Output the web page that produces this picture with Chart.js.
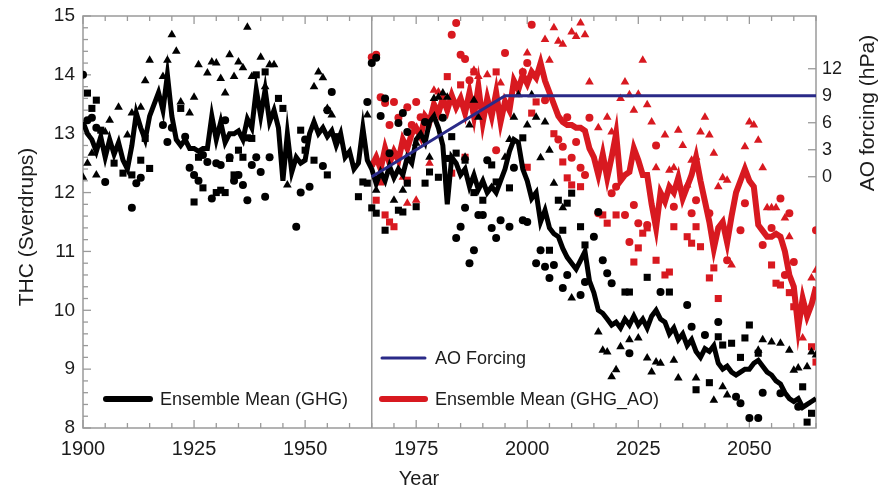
<!DOCTYPE html>
<html><head><meta charset="utf-8">
<script src="https://cdn.jsdelivr.net/npm/chart.js@4/dist/chart.umd.min.js"></script>
<style>html,body{margin:0;padding:0;background:#fff}#wrap{width:881px;height:491px}</style>
</head><body><div id="wrap"><canvas id="c" width="881" height="491"></canvas></div>
<script>
// ---------- DATA ----------
const ghgStartYear = 1900;
const ghgMean = [
 13.2,13.0,12.9,12.7,12.95,12.6,12.9,12.65,12.85,12.55,
 12.4,12.8,13.35,13.1,12.9,13.3,13.5,13.7,13.4,14.0,
 13.3,12.9,12.8,12.9,12.75,12.75,12.7,12.75,12.75,13.3,
 12.9,13.2,12.85,13.0,13.0,13.05,12.9,13.25,13.1,13.75,
 13.3,13.75,13.2,13.4,13.1,12.2,13.0,12.35,12.6,12.5,
 12.55,13.0,13.2,13.0,13.1,12.95,13.05,12.8,13.0,12.6,
 12.7,12.4,12.5,13.1,12.55,12.4,12.15,12.35,12.2,12.45,
 12.25,12.4,12.3,12.6,12.5,12.9,13.0,12.85,13.2,13.3,
 13.1,12.8,11.8,12.6,12.5,12.3,12.4,12.1,12.3,12.05,
 12.2,12.0,12.1,12.0,12.2,12.4,12.7,12.9,12.85,12.4,
 12.2,11.9,12.0,11.5,11.7,11.4,11.3,11.25,11.05,10.9,
 10.8,10.7,10.85,11.0,10.5,10.3,10.0,9.95,9.85,9.75,
 9.8,9.7,9.85,9.75,9.9,9.75,9.85,9.7,9.9,10.0,
 9.85,9.8,9.6,9.7,9.5,9.6,9.4,9.5,9.3,9.2,
 9.35,9.3,9.4,9.1,9.0,9.05,8.95,8.9,8.95,9.0,
 9.0,9.1,9.15,9.05,8.95,8.9,8.8,8.75,8.6,8.5,
 8.45,8.5,8.35,8.4,8.45,8.5
];
const aoStartYear = 1965;
const ghgAoMean = [
 12.45,12.6,12.4,12.75,12.5,12.7,12.55,12.9,12.75,13.0,
 13.1,12.95,13.3,13.2,13.5,13.35,13.6,13.4,13.65,13.45,
 13.6,13.35,13.7,13.3,13.8,13.2,13.6,13.3,13.7,13.2,
 13.55,13.4,13.9,13.75,14.0,13.85,14.05,13.95,14.2,13.9,
 13.7,13.5,13.3,13.2,13.15,13.15,13.1,13.1,13.05,12.75,
 12.6,12.3,12.65,12.25,12.6,13.0,12.2,12.3,12.35,12.75,
 12.55,12.3,12.3,11.8,11.4,12.0,11.85,12.1,12.0,12.25,
 11.9,12.1,12.3,12.6,12.2,11.85,11.5,11.05,11.4,11.5,
 11.15,11.6,12.0,12.2,12.4,12.2,12.1,11.45,11.35,11.25,
 11.25,11.3,11.25,11.0,10.6,10.4,9.7,10.2,9.9,10.1,
 10.4
];
const aoForcingYears = [1965, 1995, 2065];
const aoForcingValues = [0, 9, 9];

// ensemble members [year, THC]
const ghgCircles = [[1900,14.0],[1901,13.23],[1902,13.27],[1903,13.1],[1905,12.18],[1911,11.74],[1912,12.16],[1913,12.25],[1918,13.15],[1919,12.86],[1920,13.1],[1923,12.95],[1924,12.42],[1925,12.3],[1926,12.2],[1927,12.64],[1928,12.52],[1929,11.9],[1930,12.5],[1931,12.47],[1932,13.23],[1933,12.6],[1934,12.2],[1935,12.3],[1936,12.13],[1937,11.87],[1938,12.47],[1939,12.6],[1940,12.35],[1941,11.93],[1942,12.6],[1948,11.42],[1949,12.0],[1950,12.9],[1951,12.1],[1954,12.45],[1955,13.4],[1956,13.71],[1964,13.54],[1965,14.2],[1966,14.29],[1967,13.3],[1968,13.6],[1969,12.67],[1971,13.18],[1972,13.35],[1973,13.03],[1977,13.2],[1981,13.27],[1984,11.23],[1985,11.42],[1986,11.74],[1987,10.8],[1988,11.02],[1989,11.62],[1990,11.62],[1991,12.55],[1992,11.4],[1993,11.23],[1994,11.53],[1996,11.42],[1997,12.42],[1999,11.53],[2000,11.5],[2002,10.8],[2003,11.02],[2004,10.74],[2005,10.55],[2006,10.77],[2008,10.38],[2009,10.6],[2012,10.26],[2013,10.48],[2015,11.25],[2016,11.67],[2017,10.85],[2018,10.63],[2019,10.46],[2023,9.27],[2030,10.31],[2036,10.09],[2037,9.72],[2040,9.58],[2043,9.8],[2047,8.53],[2048,8.42],[2050,8.17],[2052,8.17],[2053,8.6],[2057,8.59],[2061,8.36]];
const ghgSquares = [[1901,13.69],[1902,13.43],[1903,13.57],[1904,13.06],[1907,12.5],[1909,12.33],[1911,12.3],[1913,12.55],[1914,12.92],[1915,12.41],[1922,13.43],[1925,11.84],[1926,12.6],[1927,12.08],[1930,12.0],[1931,12.04],[1932,12.0],[1933,12.58],[1934,12.3],[1935,12.72],[1936,12.6],[1937,12.93],[1938,12.92],[1939,14.0],[1941,14.05],[1944,13.6],[1945,13.43],[1949,13.06],[1950,12.72],[1952,12.55],[1955,12.3],[1957,12.95],[1962,11.93],[1963,12.18],[1964,12.16],[1965,11.74],[1966,11.65],[1968,11.36],[1971,11.7],[1972,11.67],[1973,12.16],[1975,11.76],[1977,12.16],[1978,12.35],[1980,12.26],[1982,12.58],[1983,12.95],[1984,12.67],[1986,12.55],[1988,12.0],[1990,11.87],[1992,12.47],[1993,12.18],[1996,12.08],[1999,12.93],[2005,11.02],[2007,11.87],[2008,11.36],[2009,11.82],[2010,11.99],[2012,11.42],[2013,11.11],[2022,10.31],[2023,10.31],[2027,10.56],[2032,10.31],[2038,8.65],[2041,8.77],[2043,9.55],[2044,9.41],[2046,9.44],[2048,9.2],[2049,9.53],[2050,9.75],[2052,9.27],[2062,8.7],[2063,8.1],[2064,8.25]];
const ghgTriangles = [[1900,12.26],[1901,12.5],[1902,12.67],[1903,12.3],[1905,13.03],[1906,13.23],[1908,13.45],[1910,12.98],[1911,13.35],[1913,13.45],[1914,13.9],[1915,14.25],[1918,13.97],[1919,14.25],[1920,14.68],[1921,14.4],[1922,13.54],[1924,13.35],[1925,13.62],[1926,14.17],[1928,14.03],[1929,14.22],[1930,14.2],[1931,13.94],[1932,13.69],[1933,14.34],[1934,13.97],[1935,14.22],[1936,14.12],[1937,14.81],[1938,13.97],[1940,14.3],[1941,13.8],[1942,14.17],[1943,14.17],[1946,12.13],[1952,13.8],[1953,14.05],[1954,13.95],[1955,13.43],[1956,13.32],[1964,13.32],[1966,12.04],[1970,11.87],[1972,12.04],[1975,12.84],[1978,12.6],[1979,13.6],[1980,13.62],[1981,13.69],[1982,13.62],[1986,12.6],[1987,13.15],[1988,13.57],[1989,13.28],[1995,12.6],[1996,12.9],[1997,13.28],[1998,13.66],[2000,13.15],[2001,13.66],[2002,13.28],[2003,12.59],[2004,13.2],[2005,12.72],[2006,12.16],[2008,11.74],[2010,10.21],[2016,9.63],[2017,9.32],[2018,9.29],[2019,8.87],[2020,8.99],[2021,9.38],[2023,9.5],[2025,9.53],[2027,9.19],[2028,8.95],[2029,9.12],[2030,9.1],[2033,9.15],[2034,8.85],[2038,8.85],[2042,8.47],[2044,8.7],[2045,8.56],[2052,9.32],[2053,9.5],[2055,9.46],[2057,9.44],[2059,9.32],[2060,8.98],[2061,9.02],[2063,9.04],[2064,9.29],[2065,9.24]];
const aoCircles = [[1965,14.3],[1966,14.34],[1967,13.62],[1968,13.52],[1969,13.15],[1970,13.54],[1971,13.27],[1973,13.45],[1974,13.15],[1975,13.54],[1976,13.28],[1983,14.68],[1984,14.88],[1985,14.34],[1986,14.27],[1987,13.91],[1993,12.72],[1995,14.37],[1999,14.05],[2000,14.2],[2001,14.85],[2004,13.57],[2007,12.9],[2008,12.78],[2009,13.28],[2010,12.59],[2011,12.86],[2012,12.42],[2013,12.3],[2014,13.27],[2016,11.65],[2019,11.99],[2020,12.1],[2022,11.62],[2023,11.16],[2024,11.79],[2025,11.48],[2027,11.45],[2029,12.8],[2033,11.76],[2037,11.65],[2038,11.87],[2041,11.65],[2045,10.85],[2048,11.36],[2049,11.82],[2053,11.11],[2055,11.4],[2057,11.9],[2058,10.6],[2059,11.65],[2060,10.82],[2065,11.36]];
const aoSquares = [[1966,11.87],[1967,12.18],[1968,11.62],[1969,11.5],[1970,11.42],[1973,12.21],[1982,13.97],[1983,12.33],[1985,13.83],[1986,12.6],[1988,14.05],[1993,14.05],[2000,12.43],[2001,13.35],[2002,13.54],[2006,13.0],[2008,12.52],[2009,12.25],[2010,12.13],[2012,12.1],[2017,11.62],[2018,11.48],[2020,11.62],[2024,10.82],[2025,11.06],[2026,11.31],[2027,11.4],[2029,10.85],[2031,10.6],[2032,10.65],[2033,11.42],[2036,11.25],[2037,11.14],[2038,11.42],[2039,11.08],[2041,10.55],[2042,10.72],[2043,10.2],[2055,10.77],[2056,10.46],[2057,10.43],[2059,10.3],[2060,10.06],[2061,9.95],[2064,9.38],[2065,9.12]];
const aoTriangles = [[1972,12.26],[1973,11.82],[1975,11.87],[1978,12.5],[1979,13.74],[1980,13.71],[1988,14.08],[1989,13.97],[1991,14.0],[1994,13.86],[1997,13.78],[2000,14.37],[2004,14.6],[2005,14.25],[2006,14.8],[2007,14.57],[2008,14.52],[2010,14.73],[2011,14.65],[2012,14.88],[2013,14.68],[2014,13.88],[2016,13.1],[2017,12.5],[2018,13.28],[2019,13.03],[2021,13.6],[2022,13.88],[2023,13.66],[2024,13.4],[2025,13.67],[2026,14.25],[2027,13.49],[2028,13.2],[2029,12.42],[2031,12.98],[2032,12.38],[2033,12.42],[2034,13.06],[2035,12.8],[2036,12.13],[2037,12.55],[2038,12.6],[2039,13.03],[2040,13.28],[2041,12.98],[2042,12.67],[2043,12.1],[2044,12.25],[2045,12.21],[2046,10.77],[2049,12.78],[2050,13.2],[2051,13.15],[2052,12.89],[2053,12.42],[2054,11.74],[2055,11.74],[2056,11.74],[2058,11.57],[2059,11.25],[2062,9.53],[2064,10.55],[2065,10.68]];

const xTickYears = [1900, 1925, 1950, 1975, 2000, 2025, 2050];
const thcTicks = [8, 9, 10, 11, 12, 13, 14, 15];
const aoTicks = [0, 3, 6, 9, 12];
const forcingStartYear = 1965;

// ---------- STYLE ----------
const FONT = '"Liberation Sans", Arial, Helvetica, sans-serif';
const TXT = '#1c1c1c';
const RED = '#d81920';
const BLUE = '#2a2a88';
const AXIS = '#9a9a9a';

const seq = (start, vals) => vals.map((v, i) => ({x: start + i, y: v}));
const pts = arr => arr.map(p => ({x: p[0], y: p[1]}));

function scatterDs(arr, style, color, r) {
  return {type: 'scatter', data: pts(arr), yAxisID: 'y', showLine: false,
    pointStyle: style, pointRadius: r, pointBackgroundColor: color,
    pointBorderWidth: 0, pointBorderColor: color, clip: 0};
}

const frame = {
  id: 'frame',
  beforeDatasetsDraw(chart) {
    const {ctx, chartArea: a, scales} = chart;
    const x = scales.x, y = scales.y, y2 = scales.y2;
    ctx.save();
    ctx.strokeStyle = AXIS; ctx.lineWidth = 1.5;
    ctx.strokeRect(a.left, a.top, a.right - a.left, a.bottom - a.top);
    const ln = (x1, y1, x2, y2_) => { ctx.beginPath(); ctx.moveTo(x1, y1); ctx.lineTo(x2, y2_); ctx.stroke(); };
    ctx.lineWidth = 1.3;
    for (let yr = 1900; yr <= 2065; yr += 5) {
      const px = x.getPixelForValue(yr);
      const L = xTickYears.includes(yr) ? 8 : 5;
      ln(px, a.bottom, px, a.bottom - L);
      ln(px, a.top, px, a.top + L);
    }
    for (let k = 0; k <= 35; k++) {
      const v = 8 + k * 0.2;
      const py = y.getPixelForValue(v);
      const L = (k % 5 === 0) ? 8 : 5;
      ln(a.left, py, a.left + L, py);
    }
    aoTicks.forEach(v => { const py = y2.getPixelForValue(v); ln(a.right, py, a.right - 8, py); });
    ctx.lineWidth = 1.5;
    const vx = x.getPixelForValue(forcingStartYear);
    ln(vx, a.top, vx, a.bottom);
    ctx.restore();
  },
  afterDraw(chart) {
    const {ctx} = chart;
    ctx.save();
    ctx.fillStyle = TXT;
    ctx.font = '21px ' + FONT;
    ctx.textAlign = 'center'; ctx.textBaseline = 'middle';
    ctx.save(); ctx.translate(27, 227); ctx.rotate(-Math.PI / 2); ctx.fillText('THC (Sverdrups)', 0, 0); ctx.restore();
    ctx.save(); ctx.translate(868, 113); ctx.rotate(-Math.PI / 2); ctx.fillText('AO forcing (hPa)', 0, 0); ctx.restore();
    ctx.font = '20px ' + FONT;
    ctx.fillText('Year', 419, 479);
    ctx.lineCap = 'round';
    const leg = (x1, x2, yy, col, w, label) => {
      ctx.strokeStyle = col; ctx.lineWidth = w;
      ctx.beginPath(); ctx.moveTo(x1, yy); ctx.lineTo(x2, yy); ctx.stroke();
      ctx.font = '18px ' + FONT; ctx.textAlign = 'left'; ctx.textBaseline = 'middle';
      ctx.fillText(label, x2 + 10, yy + 1);
    };
    leg(106, 150, 399, '#000', 6, 'Ensemble Mean (GHG)');
    leg(382, 425, 358, BLUE, 3, 'AO Forcing');
    leg(382, 425, 399, RED, 6, 'Ensemble Mean (GHG_AO)');
    ctx.restore();
  }
};

const noPadV = s => { s.paddingTop = 0; s.paddingBottom = 0; };

new Chart(document.getElementById('c'), {
  type: 'scatter',
  data: {
    datasets: [
      {type: 'line', data: aoForcingYears.map((yr, i) => ({x: yr, y: aoForcingValues[i]})), yAxisID: 'y2',
       borderColor: BLUE, borderWidth: 3, pointRadius: 0, fill: false, tension: 0},
      {type: 'line', data: seq(ghgStartYear, ghgMean), yAxisID: 'y', borderColor: '#000', borderWidth: 5,
       pointRadius: 0, fill: false, tension: 0, borderJoinStyle: 'miter', clip: 0},
      scatterDs(ghgCircles, 'circle', '#000', 4),
      scatterDs(ghgSquares, 'rect', '#000', 5),
      scatterDs(ghgTriangles, 'triangle', '#000', 5),
      {type: 'line', data: seq(aoStartYear, ghgAoMean), yAxisID: 'y', borderColor: RED, borderWidth: 6,
       pointRadius: 0, fill: false, tension: 0, borderJoinStyle: 'miter', clip: 0},
      scatterDs(aoCircles, 'circle', RED, 4),
      scatterDs(aoSquares, 'rect', RED, 5),
      scatterDs(aoTriangles, 'triangle', RED, 5)
    ]
  },
  options: {
    responsive: false, animation: false, devicePixelRatio: 1,
    layout: {padding: {top: 16, left: 0, right: 0, bottom: 0}},
    plugins: {legend: {display: false}, tooltip: {enabled: false}},
    scales: {
      x: {type: 'linear', min: 1900, max: 2065,
        afterBuildTicks: s => { s.ticks = xTickYears.map(v => ({value: v})); },
        ticks: {callback: v => String(v), font: {size: 20, family: FONT}, color: TXT, padding: 9, maxRotation: 0, autoSkip: false},
        grid: {display: false, drawTicks: false}, border: {display: false},
        afterFit: s => { s.height = 63; s.paddingLeft = 0; s.paddingRight = 0; }},
      y: {type: 'linear', position: 'left', min: 8, max: 15,
        afterBuildTicks: s => { s.ticks = thcTicks.map(v => ({value: v})); },
        ticks: {callback: v => String(v), font: {size: 19, family: FONT}, color: TXT, padding: 8},
        grid: {display: false, drawTicks: false}, border: {display: false},
        afterFit: s => { s.width = 83; noPadV(s); }},
      y2: {type: 'linear', position: 'right', min: -27.92, max: 17.86,
        afterBuildTicks: s => { s.ticks = aoTicks.map(v => ({value: v})); },
        ticks: {callback: v => String(v), font: {size: 18, family: FONT}, color: TXT, padding: 6},
        grid: {display: false, drawTicks: false}, border: {display: false},
        afterFit: s => { s.width = 65; noPadV(s); }}
    }
  },
  plugins: [frame]
});
</script>
</body></html>
